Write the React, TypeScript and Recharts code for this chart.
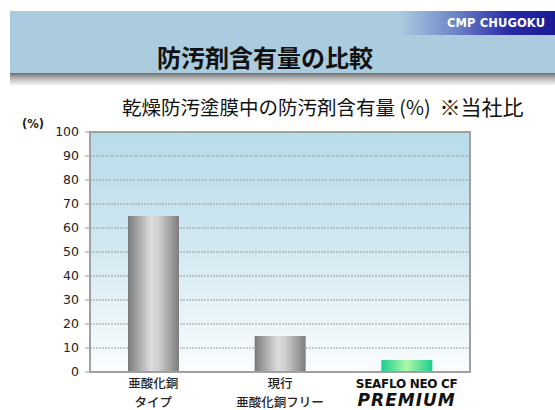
import React from 'react';
import { BarChart, Bar, XAxis, YAxis, CartesianGrid, ReferenceArea, Cell } from 'recharts';

const categories = ['亜酸化銅\nタイプ', '現行\n亜酸化銅フリー', 'SEAFLO NEO CF\nPREMIUM'];
const contents = [65, 15, 5];
const barFills = ['url(#grayBar)', 'url(#grayBar)', 'url(#greenBar)'];
const yTicks = [0, 10, 20, 30, 40, 50, 60, 70, 80, 90, 100];

const data = categories.map((name, i) => ({ name, value: contents[i] }));

const jp = '"Noto Sans CJK JP", "Noto Sans", sans-serif';

function CategoryTick(props: any) {
  const { x, y, payload } = props;
  const [l1, l2] = String(payload.value).split('\n');
  if (l1.startsWith('SEAFLO')) {
    return (
      <g transform={`translate(${x},${y})`}>
        <text x={0} y={8} textAnchor="middle" fontFamily="'DejaVu Sans', sans-serif" fontWeight={700} fontSize={12} fill="#111" letterSpacing={-0.3}>
          {l1}
        </text>
        <text x={0} y={26} textAnchor="middle" fontFamily="'DejaVu Sans', sans-serif" fontWeight={700} fontStyle="italic" fontSize={17} fill="#111" letterSpacing={1}>
          {l2}
        </text>
      </g>
    );
  }
  return (
    <g transform={`translate(${x},${y})`}>
      <text x={0} y={8} textAnchor="middle" fontFamily={jp} fontSize={12.5} fontWeight={500} fill="#222">{l1}</text>
      <text x={0} y={27} textAnchor="middle" fontFamily={jp} fontSize={12.5} fontWeight={500} fill="#222">{l2}</text>
    </g>
  );
}

export default function App() {
  return (
    <div style={{ position: 'absolute', left: 0, top: 0, width: 555, height: 410, background: '#fff', overflow: 'hidden', fontFamily: jp }}>
      {/* slide header */}
      <div style={{ position: 'absolute', left: 10, top: 11, width: 545, height: 62, background: '#abcbdf' }} />
      <div style={{ position: 'absolute', left: 400, top: 11, width: 155, height: 24, background: 'linear-gradient(to right, #abcbdf 0%, #6f86c8 35%, #2a2aa8 70%, #1a1a96 100%)' }} />
      <div style={{ position: 'absolute', left: 447, top: 14, fontFamily: "'DejaVu Sans', sans-serif", fontWeight: 700, fontSize: 11.5, color: '#fff', letterSpacing: 0.1, lineHeight: '18px', whiteSpace: 'nowrap' }}>
        CMP CHUGOKU
      </div>
      <div style={{ position: 'absolute', left: 10, top: 73, width: 545, height: 13, background: 'linear-gradient(to bottom, #6e6e6e 0%, #b5b5b5 40%, #fff 100%)' }} />
      <div style={{ position: 'absolute', left: 0, top: 40, width: 530, textAlign: 'center', fontSize: 24, fontWeight: 700, color: '#111', lineHeight: '34px' }}>
        防汚剤含有量の比較
      </div>

      {/* chart title */}
      <div style={{ position: 'absolute', left: 122, top: 92, fontSize: 19.5, color: '#111', lineHeight: '28px', whiteSpace: 'nowrap' }}>
        乾燥防汚塗膜中の防汚剤含有量 (%)
        <span style={{ marginLeft: 9, fontSize: 21 }}>※当社比</span>
      </div>
      <div style={{ position: 'absolute', left: 22, top: 117, fontFamily: "'DejaVu Sans', sans-serif", fontSize: 11.5, fontWeight: 700, color: '#222' }}>(%)</div>

      <BarChart width={555} height={410} data={data} margin={{ top: 132, right: 85, bottom: 8, left: 0 }} barSize={51} style={{ position: 'absolute', left: 0, top: 0 }}>
        <defs>
          <linearGradient id="plotBg" x1="0" y1="0" x2="0" y2="1">
            <stop offset="0%" stopColor="#b8dceb" />
            <stop offset="45%" stopColor="#cfe7f0" />
            <stop offset="100%" stopColor="#fbfdfe" />
          </linearGradient>
          <linearGradient id="grayBar" x1="0" y1="0" x2="1" y2="0">
            <stop offset="0%" stopColor="#7a7a7a" />
            <stop offset="45%" stopColor="#dcdcdc" />
            <stop offset="60%" stopColor="#d0d0d0" />
            <stop offset="100%" stopColor="#7c7c7c" />
          </linearGradient>
          <linearGradient id="greenBar" x1="0" y1="0" x2="1" y2="0">
            <stop offset="0%" stopColor="#1ccf90" />
            <stop offset="50%" stopColor="#adf7a8" />
            <stop offset="100%" stopColor="#1ccf90" />
          </linearGradient>
        </defs>
        <CartesianGrid vertical={false} fill="url(#plotBg)" stroke="#9a9a9a" strokeDasharray="2 1" />
        <XAxis dataKey="name" height={30} interval={0} tick={<CategoryTick />} tickLine={false} axisLine={{ stroke: '#a0a0a0', strokeWidth: 2 }} />
        <YAxis
          width={90}
          domain={[0, 100]}
          ticks={yTicks}
          tickSize={5}
          tickMargin={6}
          tickLine={{ stroke: '#a0a0a0' }}
          axisLine={{ stroke: '#a0a0a0', strokeWidth: 2 }}
          tick={{ fontSize: 12.5, fill: '#222', fontFamily: "'DejaVu Sans', sans-serif" }}
        />
        <ReferenceArea y1={0} y2={100} fill="none" stroke="#a0a0a0" strokeWidth={2} />
        <Bar dataKey="value" isAnimationActive={false}>
          {data.map((d, i) => (
            <Cell key={d.name} fill={barFills[i]} />
          ))}
        </Bar>
      </BarChart>
    </div>
  );
}
